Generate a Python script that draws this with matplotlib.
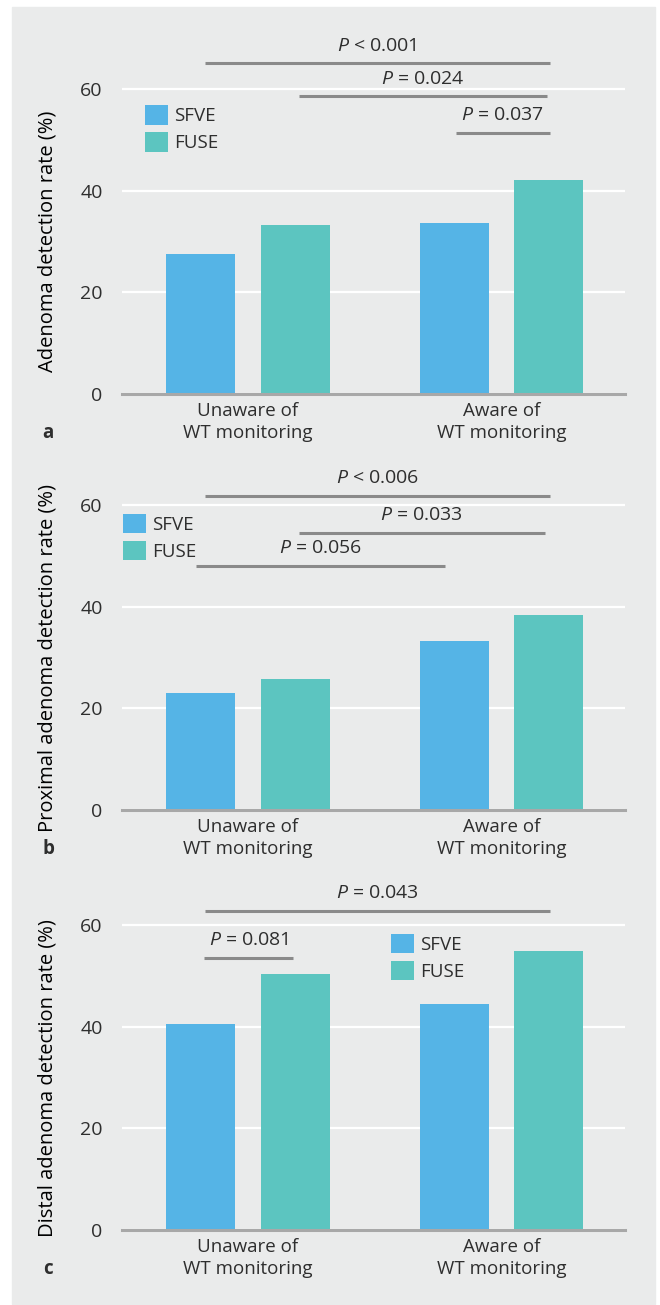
import matplotlib
matplotlib.use("Agg")
import matplotlib.pyplot as plt
from matplotlib.patches import Rectangle

plt.rcParams['font.family'] = ['Open Sans', 'DejaVu Sans']
plt.rcParams['mathtext.fontset'] = 'custom'
plt.rcParams['mathtext.it'] = 'Open Sans:italic'
plt.rcParams['mathtext.rm'] = 'Open Sans'
plt.rcParams['text.color'] = '#2e2e2e'

# data
groups = ["Unaware of\nWT monitoring", "Aware of\nWT monitoring"]
series = ["SFVE", "FUSE"]

a_sfve = [27.6, 33.7]
a_fuse = [33.3, 42.2]
b_sfve = [23.0, 33.3]
b_fuse = [25.8, 38.4]
c_sfve = [40.5, 44.5]
c_fuse = [50.4, 54.9]

ylabels = ["Adenoma detection rate (%)",
           "Proximal adenoma detection rate (%)",
           "Distal adenoma detection rate (%)"]
letters = ["a", "b", "c"]

# significance brackets: start, end, height, text
a_sig = [(-0.17, 1.19, 65.1, "$P$ < 0.001"),
         (0.20, 1.18, 58.6, "$P$ = 0.024"),
         (0.82, 1.19, 51.4, "$P$ = 0.037")]
b_sig = [(-0.17, 1.19, 61.8, "$P$ < 0.006"),
         (0.20, 1.17, 54.5, "$P$ = 0.033"),
         (-0.205, 0.777, 48.0, "$P$ = 0.056")]
c_sig = [(-0.17, 1.19, 62.8, "$P$ = 0.043"),
         (-0.174, 0.178, 53.5, "$P$ = 0.081")]

yticks = [0, 20, 40, 60]

BLUE = "#55b4e6"
TEAL = "#5cc5c0"
BG = "#eaebeb"
W, H = 660, 1305

fig = plt.figure(figsize=(W / 100, H / 100), dpi=100)
fig.patch.set_facecolor("white")
fig.patches.append(Rectangle((12 / W, 1 / H), 643 / W, 1297 / H,
                             transform=fig.transFigure, color=BG, zorder=-10))

panels = [(a_sfve, a_fuse, a_sig), (b_sfve, b_fuse, b_sig), (c_sfve, c_fuse, c_sig)]
zero_px = [394, 810, 1230]
leg_pos = [(0.0457, 0.79), (0.002, 0.81), (0.535, 0.81)]
ymax = 72
px_per_unit = 5.08
ax_h = ymax * px_per_unit

x = [0, 1]
bw = 0.272
off = 0.187

for i, (sfve, fuse, sigs) in enumerate(panels):
    bottom = (H - zero_px[i]) / H
    ax = fig.add_axes([122 / W, bottom, 503 / W, ax_h / H])
    ax.set_facecolor("none")
    ax.bar([v - off for v in x], sfve, bw, color=BLUE, label=series[0], zorder=2)
    ax.bar([v + off for v in x], fuse, bw, color=TEAL, label=series[1], zorder=2)

    ax.set_xlim(-0.497, 1.487)
    ax.set_ylim(0, ymax)
    ax.set_yticks(yticks)
    ax.set_xticks(x)
    ax.set_xticklabels(groups, fontsize=13.5, linespacing=1.25)
    ax.tick_params(axis="both", length=0, colors="#2e2e2e")
    ax.tick_params(axis="y", pad=14, labelsize=14)
    ax.tick_params(axis="x", pad=6)
    ax.grid(axis="y", color="white", linewidth=1.6, zorder=0)
    ax.set_axisbelow(True)
    for s in ["top", "right", "left"]:
        ax.spines[s].set_visible(False)
    ax.spines["bottom"].set_color("#a8a8a8")
    ax.spines["bottom"].set_linewidth(2.2)
    ax.spines["bottom"].set_zorder(3)

    ax.set_ylabel(ylabels[i], fontsize=14.5)
    ax.yaxis.set_label_coords(-0.128, 30 / ymax)

    for x0, x1, yy, txt in sigs:
        ax.plot([x0, x1], [yy, yy], color="#8a8a8a", linewidth=2.2,
                solid_capstyle="butt", clip_on=False, zorder=4)
        ax.text((x0 + x1) / 2, yy + 3.5, txt, ha="center", va="center",
                fontsize=14, clip_on=False)

    ax.text(-0.147, -39 / ax_h, letters[i], transform=ax.transAxes,
            ha="center", va="center", fontsize=13.5, fontweight="bold")

    ax.legend(loc="upper left", bbox_to_anchor=leg_pos[i], frameon=False,
              fontsize=13.5, handlelength=1.23, handleheight=1.23,
              handletextpad=0.3, labelspacing=0.37, borderpad=0,
              borderaxespad=0)

fig.savefig("out.png", dpi=100, facecolor="white")
